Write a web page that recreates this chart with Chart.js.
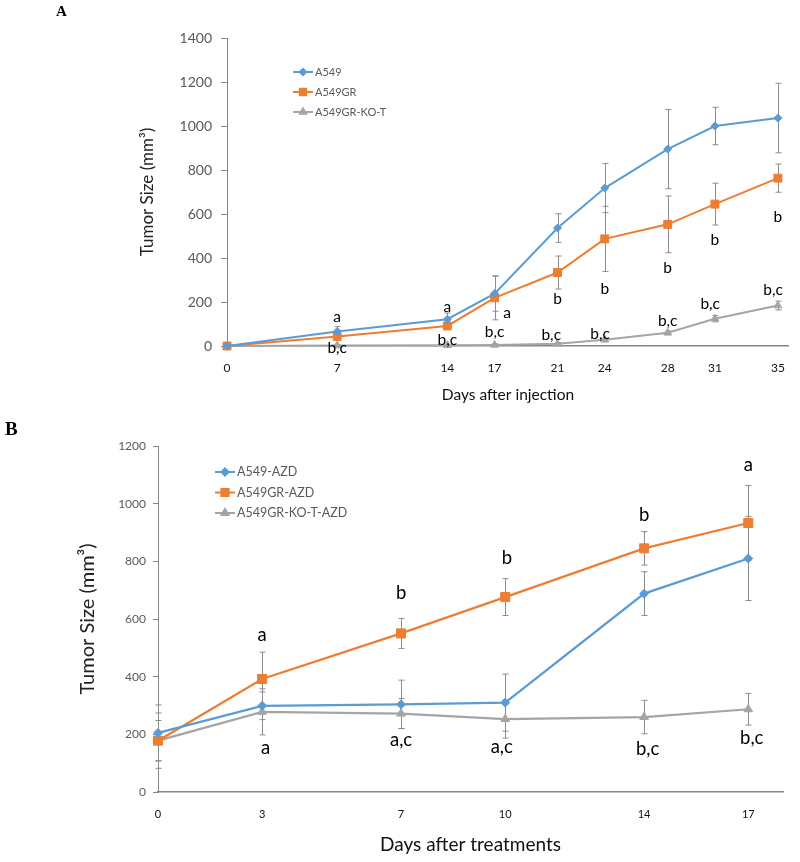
<!DOCTYPE html>
<html>
<head>
<meta charset="utf-8">
<script src="https://cdn.jsdelivr.net/npm/chart.js@4.4.0/dist/chart.umd.min.js"></script>
<style>
  body { margin: 0; background: #fff; }
  #wrap { position: relative; width: 800px; height: 862px; }
  canvas { position: absolute; left: 0; }
  .panel { position: absolute; font-family: "Liberation Serif", serif; font-weight: bold; line-height: 1; color: #000; }
</style>
</head>
<body>
<div id="wrap">
  <canvas id="chartA" width="800" height="420" style="top:0"></canvas>
  <canvas id="chartB" width="800" height="442" style="top:420px"></canvas>
  <div class="panel" style="left:56px;top:4px;font-size:15px">A</div>
  <div class="panel" style="left:5px;top:419px;font-size:19px">B</div>
</div>
<script>
// panel A - days after injection
const daysA = [0, 7, 14, 17, 21, 24, 28, 31, 35];
const a549 = [0, 66, 122, 238, 536, 718, 895, 1000, 1036];
const a549Err = [0, 22, 28, 80, 65, 112, 180, 85, 158];
const a549GR = [0, 43, 91, 219, 334, 487, 553, 645, 763];
const a549GRErr = [0, 10, 10, 100, 75, 148, 129, 95, 64];
const a549KO = [0, 2, 3, 5, 10, 28, 60, 124, 184];
const a549KOErr = [0, 3, 3, 4, 5, 6, 8, 14, 20];
const lettersA = [
  [7, 133, "a"], [7, -9, "b,c"],
  [14, 179, "a"], [14, 27, "b,c"],
  [17, 65, "b,c"], [17.8, 151, "a"],
  [21, 212, "b"], [20.6, 50, "b,c"],
  [24, 259, "b"], [23.7, 55, "b,c"],
  [28, 354, "b"], [28, 115, "b,c"],
  [31, 482, "b"], [30.7, 190, "b,c"],
  [35, 588, "b"], [34.7, 255, "b,c"]
];

// panel B - days after treatments
const daysB = [0, 3, 7, 10, 14, 17];
const azd = [205, 299, 304, 310, 688, 810];
const azdErr = [97, 48, 84, 99, 76, 146];
const grAzd = [178, 392, 550, 676, 845, 933];
const grAzdErr = [70, 93, 52, 64, 58, 130];
const koAzd = [178, 278, 272, 253, 260, 287];
const koAzdErr = [96, 80, 52, 66, 58, 55];
const lettersB = [
  [3, 544, "a"], [3.1, 152, "a"],
  [7, 690, "b"], [7, 180, "a,c"],
  [10.05, 811, "b"], [9.9, 156, "a,c"],
  [14, 960, "b"], [14.1, 149, "b,c"],
  [17, 1133, "a"], [17.1, 187, "b,c"]
];

const BLUE = "#5B9BD5", ORANGE = "#ED7D31", GREY = "#A5A5A5";
Chart.defaults.font.family = "Lato";

const errorBars = {
  id: "errorBars",
  beforeDatasetsDraw(chart, args, opts) {
    const { ctx, scales: { x, y } } = chart;
    ctx.save();
    ctx.strokeStyle = opts.color;
    ctx.lineWidth = 1;
    chart.data.datasets.forEach(ds => {
      ds.data.forEach((p, i) => {
        const e = ds.errors[i];
        if (!e) return;
        const px = Math.round(x.getPixelForValue(p.x)) + 0.5;
        const top = y.getPixelForValue(p.y + e);
        const bot = y.getPixelForValue(p.y - e);
        ctx.beginPath();
        ctx.moveTo(px, top); ctx.lineTo(px, bot);
        ctx.moveTo(px - opts.cap, top); ctx.lineTo(px + opts.cap, top);
        ctx.moveTo(px - opts.cap, bot); ctx.lineTo(px + opts.cap, bot);
        ctx.stroke();
      });
    });
    ctx.restore();
  }
};

const letters = {
  id: "letters",
  afterDraw(chart, args, opts) {
    const { ctx, scales: { x, y } } = chart;
    ctx.save();
    ctx.fillStyle = "#000";
    ctx.font = opts.size + "px Lato";
    ctx.textAlign = "center";
    ctx.textBaseline = "middle";
    opts.items.forEach(([d, v, t]) => ctx.fillText(t, x.getPixelForValue(d), y.getPixelForValue(v)));
    ctx.restore();
  }
};

const legendBox = {
  id: "legendBox",
  afterDraw(chart, args, opts) {
    const ctx = chart.ctx;
    ctx.save();
    ctx.font = opts.size + "px Lato";
    ctx.textBaseline = "middle";
    chart.data.datasets.forEach((ds, i) => {
      const yy = opts.top + i * opts.gap;
      ctx.strokeStyle = ds.borderColor;
      ctx.fillStyle = ds.borderColor;
      ctx.lineWidth = 2;
      ctx.beginPath();
      ctx.moveTo(opts.left, yy); ctx.lineTo(opts.left + opts.len, yy);
      ctx.stroke();
      Chart.helpers.drawPoint(ctx, { pointStyle: ds.pointStyle, radius: ds.pointRadius * 0.8, borderWidth: 1, rotation: 0 },
        opts.left + opts.len / 2, yy);
      ctx.fillStyle = "#595959";
      ctx.fillText(ds.label, opts.left + opts.len + 2, yy);
    });
    ctx.restore();
  }
};

function series(label, days, vals, errs, color, style, r, w) {
  return {
    label: label,
    data: days.map((d, i) => ({ x: d, y: vals[i] })),
    errors: errs,
    borderColor: color,
    backgroundColor: color,
    borderWidth: w,
    pointStyle: style,
    pointRadius: r,
    pointBorderWidth: 1,
    tension: 0,
    clip: false
  };
}

function makeChart(id, c) {
  return new Chart(document.getElementById(id), {
    type: "line",
    data: { datasets: c.datasets },
    plugins: [errorBars, letters, legendBox],
    options: {
      responsive: false,
      animation: false,
      devicePixelRatio: 1,
      layout: { padding: c.padding },
      plugins: {
        legend: { display: false },
        tooltip: { enabled: false },
        errorBars: { color: "#8c8c8c", cap: 3 },
        letters: { items: c.letters, size: c.letterSize },
        legendBox: c.legend
      },
      scales: {
        x: {
          type: "linear",
          min: 0,
          max: c.xMax,
          afterBuildTicks: s => { s.ticks = c.days.map(v => ({ value: v })); },
          afterFit: s => { s.height = c.xHeight; },
          grid: { drawOnChartArea: false, drawTicks: false },
          border: { color: "#868686", width: c.xBorder },
          ticks: { color: "#111", font: { size: c.xTickSize }, padding: c.xTickPad, maxRotation: 0, autoSkip: false,
                   callback: v => String(v) },
          title: { display: true, text: c.xTitle, color: "#111", font: { size: c.xTitleSize } }
        },
        y: {
          min: 0,
          max: c.yMax,
          afterFit: s => { s.width = c.yWidth; },
          grid: { drawOnChartArea: false, color: "#868686", tickLength: c.tickLen },
          border: { color: "#868686" },
          ticks: { stepSize: 200, color: "#595959", font: { size: c.yTickSize }, padding: c.yTickPad,
                   callback: v => String(v) },
          title: { display: true, text: "Tumor Size (mm³)", color: "#222", font: { size: c.yTitleSize } }
        }
      }
    }
  });
}

makeChart("chartA", {
  datasets: [
    series("A549", daysA, a549, a549Err, BLUE, "rectRot", 4, 2),
    series("A549GR", daysA, a549GR, a549GRErr, ORANGE, "rect", 5.6, 2),
    series("A549GR-KO-T", daysA, a549KO, a549KOErr, GREY, "triangle", 4.5, 2)
  ],
  days: daysA, xMax: 35.7, yMax: 1400,
  padding: { left: 133, right: 8, top: 38, bottom: 12 },
  yWidth: 94, xHeight: 62, xBorder: 1.5, tickLen: 6,
  xTickSize: 12, xTickPad: 15, yTickSize: 14, yTickPad: 9, xTitleSize: 15.5, yTitleSize: 17,
  xTitle: "Days after injection",
  letters: lettersA, letterSize: 15.5,
  legend: { left: 293, top: 72, gap: 20, len: 20, size: 11 }
});

makeChart("chartB", {
  datasets: [
    series("A549-AZD", daysB, azd, azdErr, BLUE, "rectRot", 4.5, 2.25),
    series("A549GR-AZD", daysB, grAzd, grAzdErr, ORANGE, "rect", 6.4, 2.25),
    series("A549GR-KO-T-AZD", daysB, koAzd, koAzdErr, GREY, "triangle", 5, 2.25)
  ],
  days: daysB, xMax: 18, yMax: 1200,
  padding: { left: 72, right: 17, top: 26, bottom: 2 },
  yWidth: 86, xHeight: 68, xBorder: 1.5, tickLen: 5,
  xTickSize: 11, xTickPad: 16, yTickSize: 12, yTickPad: 7, xTitleSize: 19, yTitleSize: 20,
  xTitle: "Days after treatments",
  letters: lettersB, letterSize: 18.5,
  legend: { left: 215, top: 52, gap: 20.5, len: 20, size: 12.5 }
});
</script>
</body>
</html>
